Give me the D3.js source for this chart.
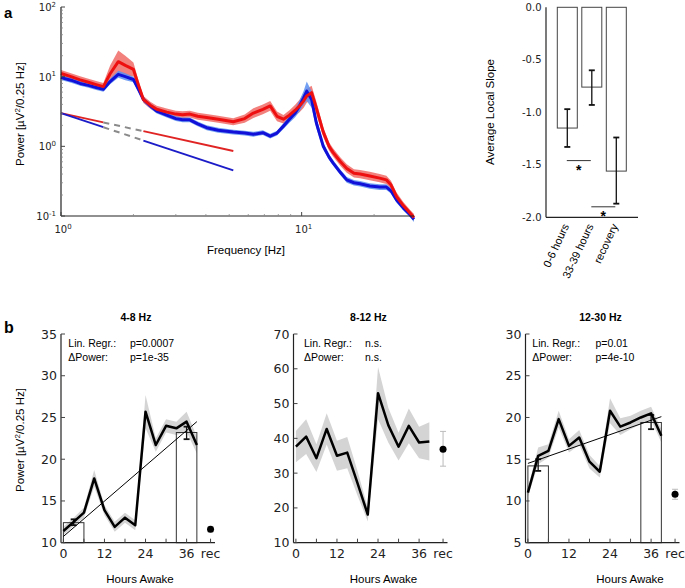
<!DOCTYPE html>
<html><head><meta charset="utf-8">
<script src="https://cdn.jsdelivr.net/npm/d3@7"></script>
<style>body{margin:0;background:#fff}svg{display:block}</style>
</head><body>
<svg id="c" width="685" height="588"></svg>
<script>
// ---------- DATA: panel a (spectra) ----------
const freqs    = [1,1.1,1.2,1.3,1.4,1.5,1.6,1.73,1.85,2.0,2.1,2.2,2.35,2.5,2.75,3.0,3.2,3.43,3.7,4.03,4.5,5.2,5.8,6.3,6.9,7.4,7.9,8.4,8.9,9.4,9.8,10.2,10.5,11.0,11.5,12.3,13.0,13.5,14.5,15.4,16.5,17.5,19.2,21.1,22.5,23.5,24.8,26.5,28.2,29.3];
const redMean  = [11.1,10.0,9.0,8.3,7.7,7.2,11,16.4,14.5,12.7,7.5,4.7,3.9,3.4,3.1,2.9,2.85,2.9,2.7,2.6,2.45,2.25,2.5,3.0,3.4,3.8,2.7,2.45,2.8,3.3,3.8,4.5,5.3,5.9,3.6,1.6,1.0,0.82,0.6,0.48,0.41,0.40,0.375,0.35,0.33,0.28,0.19,0.14,0.11,0.095];
const redErr   = [0.05,0.05,0.05,0.05,0.05,0.05,0.12,0.16,0.14,0.1,0.07,0.05,0.05,0.05,0.05,0.05,0.05,0.05,0.05,0.05,0.05,0.05,0.06,0.07,0.07,0.07,0.07,0.06,0.07,0.08,0.09,0.1,0.1,0.1,0.09,0.07,0.06,0.06,0.06,0.06,0.06,0.06,0.06,0.06,0.06,0.06,0.06,0.05,0.05,0.05];
const blueMean = [9.7,8.9,8.0,7.5,7.0,6.6,8.5,10.8,10.0,9.1,6.5,4.7,3.8,3.2,2.8,2.5,2.4,2.4,2.1,1.85,1.7,1.6,1.55,1.49,1.57,1.4,1.55,1.95,2.44,3.0,3.8,5.0,6.2,4.7,2.2,1.0,0.7,0.58,0.42,0.33,0.30,0.29,0.27,0.26,0.26,0.23,0.17,0.13,0.105,0.09];
const blueErr  = [0.035,0.035,0.035,0.035,0.035,0.035,0.04,0.05,0.05,0.04,0.035,0.035,0.035,0.035,0.035,0.035,0.035,0.035,0.035,0.035,0.035,0.035,0.035,0.035,0.035,0.035,0.035,0.04,0.05,0.06,0.08,0.1,0.14,0.12,0.08,0.05,0.04,0.04,0.04,0.04,0.04,0.04,0.04,0.04,0.04,0.04,0.04,0.04,0.04,0.04];
const fitIntercept = 3.0;
const fitSlopes    = [-0.76, -1.15];           // red, blue
const fitSolid     = [[1, 1.5], [2.2, 5.2]];
const fitDashed    = [1.5, 2.2];
const yDecades     = [-1, 0, 1, 2];
const xDecades     = [0, 1];

// ---------- DATA: panel a (local slopes) ----------
const slopeCats = ["0-6 hours", "33-39 hours", "recovery"];
const slopeVals = [-1.15, -0.76, -1.56];
const slopeLo   = [-1.33, -0.93, -1.87];
const slopeHi   = [-0.97, -0.60, -1.24];
const slopeTicks = [0, -0.5, -1.0, -1.5, -2.0];
const sigPairs  = [[0, 1, -1.46], [1, 2, -1.90]];

// ---------- DATA: panel b ----------
const hours = [0,3,6,9,12,15,18,21,24,27,30,33,36,39];
const theta    = [11.4,12.5,13.6,17.7,13.9,11.9,13.0,12.1,25.7,21.7,24.0,23.7,24.5,21.7];
const thetaErr = [0.5,0.5,0.6,1.0,0.6,0.6,0.6,0.6,2.0,0.8,0.8,0.8,1.2,1.0];
const alpha    = [37.6,40.5,34.3,42.7,35.0,35.9,27.1,18.1,53.0,43.8,37.6,43.6,38.8,39.1];
const alphaErr = [4.5,5.0,4.0,4.5,4.3,4.5,3.5,2.0,7.5,5.0,4.0,5.0,4.5,5.5];
const beta     = [11.0,15.4,16.0,19.8,16.6,17.6,14.7,13.5,20.8,18.9,19.4,20.0,20.5,17.8];
const betaErr  = [0.5,1.0,0.8,1.0,0.8,0.9,0.8,0.7,1.5,1.0,0.8,0.8,0.8,0.8];
const hourTicks = [0, 6, 12, 18, 24, 30, 36];
const hourLabels = [0, 12, 24, 36];
const recHour = 43;
const thetaBars = [[0, 6, 12.4, 12.1, 12.8], [33, 39, 23.2, 22.4, 23.9]];
const betaBars  = [[0, 6, 14.2, 13.6, 15.0], [33, 39, 19.4, 18.6, 20.3]];
const thetaReg  = [[0, 10.75], [39, 24.5]];
const betaReg   = [[0, 14.5], [39, 20.1]];
const thetaRec  = [11.6, 11.3, 11.9];
const alphaRec  = [36.9, 32.0, 42.0];
const betaRec   = [10.8, 10.2, 11.4];

// ---------- DRAW ----------
const svg = d3.select("#c");
const SANS = "'Liberation Sans', Arial, sans-serif";
const DV = "'DejaVu Sans', sans-serif";

// panel labels
svg.append("text").attr("x", 4).attr("y", 18).attr("font-family", SANS).attr("font-weight", "bold").attr("font-size", 15).text("a");
svg.append("text").attr("x", 4).attr("y", 333).attr("font-family", SANS).attr("font-weight", "bold").attr("font-size", 16).text("b");

// ===== spectrum =====
const xF = d3.scaleLog().domain([1, 29.3]).range([61, 414]);
const yP = d3.scaleLog().domain([0.1, 100]).range([216, 7]);
const gA = svg.append("g");
const idx = d3.range(freqs.length);
function band(mean, err) {
  return d3.area().x(i => xF(freqs[i])).y0(i => yP(mean[i] / Math.pow(10, err[i]))).y1(i => yP(mean[i] * Math.pow(10, err[i])))(idx);
}
function line(mean) { return d3.line().x(i => xF(freqs[i])).y(i => yP(mean[i]))(idx); }
gA.append("path").attr("d", band(redMean, redErr)).attr("fill", "#f06a66").attr("opacity", 0.85);
gA.append("path").attr("d", band(blueMean, blueErr)).attr("fill", "#5b8ff0").attr("opacity", 0.85);
gA.append("path").attr("d", line(blueMean)).attr("fill", "none").attr("stroke", "#1010d8").attr("stroke-width", 3).attr("stroke-linejoin", "round");
gA.append("path").attr("d", line(redMean)).attr("fill", "none").attr("stroke", "#ee1010").attr("stroke-width", 3).attr("stroke-linejoin", "round");

const fitCols = ["#e02424", "#1c1cc8"];
fitSlopes.forEach((s, k) => {
  const f = v => fitIntercept * Math.pow(v, s);
  fitSolid.forEach(r => {
    gA.append("line").attr("x1", xF(r[0])).attr("y1", yP(f(r[0]))).attr("x2", xF(r[1])).attr("y2", yP(f(r[1])))
      .attr("stroke", fitCols[k]).attr("stroke-width", 1.8);
  });
  gA.append("line").attr("x1", xF(fitDashed[0])).attr("y1", yP(f(fitDashed[0]))).attr("x2", xF(fitDashed[1])).attr("y2", yP(f(fitDashed[1])))
    .attr("stroke", "#8a8a8a").attr("stroke-width", 2).attr("stroke-dasharray", "6,5");
});

// axes
gA.append("line").attr("x1", 61).attr("x2", 61).attr("y1", yP(100)).attr("y2", yP(0.1)).attr("stroke", "#222").attr("stroke-width", 1.2);
gA.append("line").attr("x1", 61).attr("x2", xF(29.3)).attr("y1", yP(0.1)).attr("y2", yP(0.1)).attr("stroke", "#222").attr("stroke-width", 1.2);
yDecades.forEach(d => {
  const base = Math.pow(10, d);
  gA.append("line").attr("x1", 61).attr("x2", 65).attr("y1", yP(base)).attr("y2", yP(base)).attr("stroke", "#444");
  if (d < 2) for (let m = 2; m <= 9; m++) {
    gA.append("line").attr("x1", 61).attr("x2", 63).attr("y1", yP(base * m)).attr("y2", yP(base * m)).attr("stroke", "#888").attr("stroke-width", 0.8);
  }
  const t = gA.append("text").attr("x", 56).attr("y", yP(base) + 4).attr("text-anchor", "end").attr("font-family", DV).attr("font-size", 10).attr("fill", "#222");
  t.append("tspan").text("10");
  t.append("tspan").attr("font-size", 7).attr("dy", -4.5).text(String(d));
});
xDecades.forEach(d => {
  const base = Math.pow(10, d);
  gA.append("line").attr("x1", xF(base)).attr("x2", xF(base)).attr("y1", 216).attr("y2", 212).attr("stroke", "#444");
  for (let m = 2; m <= 9; m++) {
    const v = base * m;
    if (v <= 29.3) gA.append("line").attr("x1", xF(v)).attr("x2", xF(v)).attr("y1", 216).attr("y2", 214).attr("stroke", "#888").attr("stroke-width", 0.8);
  }
  const t = gA.append("text").attr("x", xF(base) + 2).attr("y", 233).attr("text-anchor", "middle").attr("font-family", DV).attr("font-size", 10).attr("fill", "#222");
  t.append("tspan").text("10");
  t.append("tspan").attr("font-size", 7).attr("dy", -4.5).text(String(d));
});
gA.append("text").attr("x", 246).attr("y", 254).attr("text-anchor", "middle").attr("font-family", SANS).attr("font-size", 11.5).text("Frequency [Hz]");
function powerLabel(x, y) {
  const t = svg.append("text").attr("transform", `translate(${x},${y}) rotate(-90)`).attr("text-anchor", "middle")
    .attr("font-family", SANS).attr("font-size", 11.5);
  t.append("tspan").text("Power [µV");
  t.append("tspan").attr("font-size", 8).attr("dy", -4).text("2");
  t.append("tspan").attr("dy", 4).text("/0.25 Hz]");
}
powerLabel(24, 114);

// ===== local slope bars =====
const yS = d3.scaleLinear().domain([-2, 0]).range([217.3, 7.3]);
const xS = d3.scalePoint().domain(slopeCats).range([567.3, 616.3]);
const gS = svg.append("g");
slopeCats.forEach((c, i) => {
  gS.append("rect").attr("x", xS(c) - 10).attr("width", 20).attr("y", yS(0)).attr("height", yS(slopeVals[i]) - yS(0))
    .attr("fill", "#fff").attr("stroke", "#444").attr("stroke-width", 1);
  const cx = xS(c);
  gS.append("line").attr("x1", cx).attr("x2", cx).attr("y1", yS(slopeLo[i])).attr("y2", yS(slopeHi[i])).attr("stroke", "#111").attr("stroke-width", 1.3);
  [slopeLo[i], slopeHi[i]].forEach(v => gS.append("line").attr("x1", cx - 3).attr("x2", cx + 3).attr("y1", yS(v)).attr("y2", yS(v)).attr("stroke", "#111").attr("stroke-width", 1.8));
  gS.append("text").attr("transform", `translate(${cx + 2},${226}) rotate(-65)`).attr("text-anchor", "end")
    .attr("font-family", SANS).attr("font-size", 11).text(c);
});
sigPairs.forEach(p => {
  const x1 = xS(slopeCats[p[0]]) - 0.5, x2 = xS(slopeCats[p[1]]) - 1;
  gS.append("line").attr("x1", x1).attr("x2", x2).attr("y1", yS(p[2])).attr("y2", yS(p[2])).attr("stroke", "#333").attr("stroke-width", 1);
  gS.append("text").attr("x", (x1 + x2) / 2).attr("y", yS(p[2]) + 14).attr("text-anchor", "middle")
    .attr("font-family", SANS).attr("font-weight", "bold").attr("font-size", 14).text("*");
});
gS.append("line").attr("x1", 546).attr("x2", 546).attr("y1", yS(0)).attr("y2", yS(-2)).attr("stroke", "#222").attr("stroke-width", 1.2);
gS.append("line").attr("x1", 546).attr("x2", 638).attr("y1", yS(-2)).attr("y2", yS(-2)).attr("stroke", "#222").attr("stroke-width", 1.2);
slopeTicks.forEach(v => {
  gS.append("text").attr("x", 541.5).attr("y", yS(v) + 3.5).attr("text-anchor", "end").attr("font-family", DV).attr("font-size", 10)
    .attr("fill", "#222").text(v.toFixed(1));
});
gS.append("text").attr("transform", "translate(494,112) rotate(-90)").attr("text-anchor", "middle").attr("font-family", SANS)
  .attr("font-size", 11.5).text("Average Local Slope");

// ===== panel b =====
function hoursPanel(o) {
  const g = svg.append("g");
  const x = d3.scaleLinear().domain([-0.7, 44.3]).range([o.left, o.left + 154]);
  const y = d3.scaleLinear().domain(o.yDom).range([542.7, 334]);
  const ii = d3.range(hours.length);
  g.append("path").attr("d", d3.area().x(i => x(hours[i])).y0(i => y(o.vals[i] - o.err[i])).y1(i => y(o.vals[i] + o.err[i]))(ii))
    .attr("fill", "#d4d4d4");
  (o.bars || []).forEach(b => {
    g.append("rect").attr("x", x(b[0])).attr("width", x(b[1]) - x(b[0])).attr("y", y(b[2])).attr("height", y(o.yDom[0]) - y(b[2]))
      .attr("fill", "none").attr("stroke", "#333").attr("stroke-width", 1);
    const cx = x((b[0] + b[1]) / 2);
    g.append("line").attr("x1", cx).attr("x2", cx).attr("y1", y(b[3])).attr("y2", y(b[4])).attr("stroke", "#111").attr("stroke-width", 1.3);
    [b[3], b[4]].forEach(v => g.append("line").attr("x1", cx - 3).attr("x2", cx + 3).attr("y1", y(v)).attr("y2", y(v)).attr("stroke", "#111").attr("stroke-width", 1.8));
  });
  g.append("path").attr("d", d3.line().x(i => x(hours[i])).y(i => y(o.vals[i]))(ii)).attr("fill", "none").attr("stroke", "#000")
    .attr("stroke-width", 2.5).attr("stroke-linejoin", "round");
  if (o.reg) g.append("line").attr("x1", x(o.reg[0][0])).attr("y1", y(o.reg[0][1])).attr("x2", x(o.reg[1][0])).attr("y2", y(o.reg[1][1]))
    .attr("stroke", "#000").attr("stroke-width", 1);
  // rec point
  const rx = x(recHour);
  g.append("line").attr("x1", rx).attr("x2", rx).attr("y1", y(o.rec[1])).attr("y2", y(o.rec[2])).attr("stroke", "#bbb").attr("stroke-width", 1);
  [o.rec[1], o.rec[2]].forEach(v => g.append("line").attr("x1", rx - 3).attr("x2", rx + 3).attr("y1", y(v)).attr("y2", y(v)).attr("stroke", "#bbb").attr("stroke-width", 1));
  g.append("circle").attr("cx", rx).attr("cy", y(o.rec[0])).attr("r", 3.5).attr("fill", "#000");
  // axes
  g.append("line").attr("x1", o.left).attr("x2", o.left).attr("y1", 334).attr("y2", 542.7).attr("stroke", "#222").attr("stroke-width", 1.2);
  g.append("line").attr("x1", o.left).attr("x2", o.left + 154).attr("y1", 542.7).attr("y2", 542.7).attr("stroke", "#222").attr("stroke-width", 1.2);
  hourTicks.concat([recHour]).forEach(h => g.append("line").attr("x1", x(h)).attr("x2", x(h)).attr("y1", 542.7).attr("y2", 538.7).attr("stroke", "#444"));
  hourLabels.forEach(h => g.append("text").attr("x", x(h)).attr("y", 558).attr("text-anchor", "middle").attr("font-family", DV)
    .attr("font-size", 12.5).attr("fill", "#222").text(h));
  g.append("text").attr("x", rx).attr("y", 558).attr("text-anchor", "middle").attr("font-family", DV).attr("font-size", 12.5).attr("fill", "#222").text("rec");
  y.ticks(o.nT).forEach(v => {
    g.append("line").attr("x1", o.left).attr("x2", o.left + 4).attr("y1", y(v)).attr("y2", y(v)).attr("stroke", "#444");
    g.append("text").attr("x", o.left - 4).attr("y", y(v) + 4.5).attr("text-anchor", "end").attr("font-family", DV).attr("font-size", 12.5)
      .attr("fill", "#222").text(v);
  });
  g.append("text").attr("x", o.left + 75).attr("y", 320.5).attr("text-anchor", "middle").attr("font-family", SANS).attr("font-weight", "bold")
    .attr("font-size", 10.5).text(o.title);
  g.append("text").attr("x", o.left + o.xl).attr("y", 582.5).attr("text-anchor", "middle").attr("font-family", SANS).attr("font-size", 11.5).text("Hours Awake");
  g.append("text").attr("x", o.left + o.t1).attr("y", 347).attr("font-family", SANS).attr("font-size", 10.5).text("Lin. Regr.:");
  g.append("text").attr("x", o.left + o.t1).attr("y", 361).attr("font-family", SANS).attr("font-size", 10.5).text("ΔPower:");
  g.append("text").attr("x", o.left + o.t2).attr("y", 347).attr("font-family", SANS).attr("font-size", 10.5).text(o.p1);
  g.append("text").attr("x", o.left + o.t2).attr("y", 361).attr("font-family", SANS).attr("font-size", 10.5).text(o.p2);
}
hoursPanel({left: 61, yDom: [10, 35], nT: 5, vals: theta, err: thetaErr, bars: thetaBars, reg: thetaReg, rec: thetaRec,
  title: "4-8 Hz", p1: "p=0.0007", p2: "p=1e-35", t1: 7.3, t2: 69, xl: 79});
hoursPanel({left: 293.5, yDom: [10, 70], nT: 6, vals: alpha, err: alphaErr, rec: alphaRec,
  title: "8-12 Hz", p1: "n.s.", p2: "n.s.", t1: 10.5, t2: 71.5, xl: 90});
hoursPanel({left: 525.5, yDom: [5, 30], nT: 5, vals: beta, err: betaErr, bars: betaBars, reg: betaReg, rec: betaRec,
  title: "12-30 Hz", p1: "p=0.01", p2: "p=4e-10", t1: 6.8, t2: 70, xl: 104.5});
powerLabel(24, 440);
</script>
</body></html>
